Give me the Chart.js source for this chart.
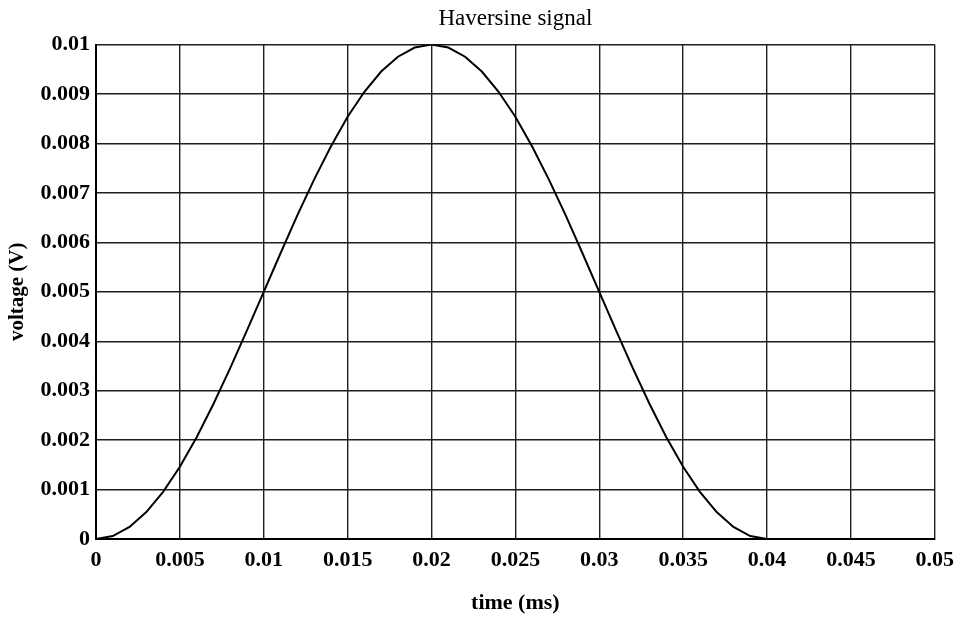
<!DOCTYPE html>
<html>
<head>
<meta charset="utf-8">
<title>Haversine signal</title>
<script src="https://cdn.jsdelivr.net/npm/chart.js@4/dist/chart.umd.min.js"></script>
<style>
  html, body { margin: 0; padding: 0; background: #fff; }
  canvas { display: block; }
</style>
</head>
<body>
<canvas id="haversineChart" width="962" height="620"></canvas>
<script>
// sampled signal, one point every 0.001 ms
var timeMs = [0, 0.001, 0.002, 0.003, 0.004, 0.005, 0.006, 0.007, 0.008, 0.009, 0.01,
              0.011, 0.012, 0.013, 0.014, 0.015, 0.016, 0.017, 0.018, 0.019, 0.02,
              0.021, 0.022, 0.023, 0.024, 0.025, 0.026, 0.027, 0.028, 0.029, 0.03,
              0.031, 0.032, 0.033, 0.034, 0.035, 0.036, 0.037, 0.038, 0.039, 0.04];
var voltage = [0, 0.00006, 0.000245, 0.000545, 0.000955, 0.00146, 0.00206, 0.00273, 0.003455, 0.00422, 0.005,
               0.00578, 0.006545, 0.00727, 0.00794, 0.00854, 0.009045, 0.009455, 0.009755, 0.00994, 0.01,
               0.00994, 0.009755, 0.009455, 0.009045, 0.00854, 0.00794, 0.00727, 0.006545, 0.00578, 0.005,
               0.00422, 0.003455, 0.00273, 0.00206, 0.00146, 0.000955, 0.000545, 0.000245, 0.00006, 0];

// tick positions on both axes
var xTicks = [0, 0.005, 0.01, 0.015, 0.02, 0.025, 0.03, 0.035, 0.04, 0.045, 0.05];
var yTicks = [0, 0.001, 0.002, 0.003, 0.004, 0.005, 0.006, 0.007, 0.008, 0.009, 0.01];

var points = timeMs.map(function (t, i) { return { x: t, y: voltage[i] }; });

var serif = "'Liberation Serif', 'DejaVu Serif', serif";
var gridColor = '#1e1e1e';

// keep the title centred over the plot area rather than the whole canvas
var centreTitle = {
    id: 'centreTitle',
    afterLayout: function (chart) {
        var tb = chart.titleBlock;
        if (!tb) return;
        tb.left = chart.chartArea.left;
        tb.right = chart.chartArea.right;
        tb.width = tb.right - tb.left;
    }
};

var ctx = document.getElementById('haversineChart').getContext('2d');
var myChart = new Chart(ctx, {
    type: 'line',
    data: {
        datasets: [{
            label: 'voltage',
            data: points,
            borderColor: '#000',
            borderWidth: 2,
            pointRadius: 0,
            fill: false,
            tension: 0
        }]
    },
    options: {
        responsive: false,
        animation: false,
        layout: { padding: { left: 0, right: 27, top: 0, bottom: 0 } },
        plugins: {
            legend: { display: false },
            tooltip: { enabled: false },
            title: {
                display: true,
                text: 'Haversine signal',
                color: '#000',
                font: { family: serif, size: 23, weight: 'normal' },
                padding: { top: 5, bottom: 12 }
            }
        },
        scales: {
            x: {
                type: 'linear',
                min: 0,
                max: 0.05,
                afterBuildTicks: function (scale) {
                    scale.ticks = xTicks.map(function (v) { return { value: v }; });
                },
                afterFit: function (scale) { scale.height = 81; },
                ticks: {
                    color: '#000',
                    padding: 8,
                    maxRotation: 0,
                    autoSkip: false,
                    font: { family: serif, size: 22, weight: 'bold' },
                    callback: function (v) { return String(parseFloat(v.toFixed(4))); }
                },
                grid: { color: gridColor, lineWidth: 1.4, drawTicks: false },
                border: { color: '#000', width: 2 },
                title: {
                    display: true,
                    text: 'time (ms)',
                    color: '#000',
                    font: { family: serif, size: 22, weight: 'bold' },
                    padding: { top: 0, bottom: 3 }
                }
            },
            y: {
                type: 'linear',
                min: 0,
                max: 0.01,
                afterBuildTicks: function (scale) {
                    scale.ticks = yTicks.map(function (v) { return { value: v }; });
                },
                afterFit: function (scale) { scale.width = 96; },
                ticks: {
                    color: '#000',
                    padding: 6,
                    autoSkip: false,
                    font: { family: serif, size: 22, weight: 'bold' },
                    callback: function (v) { return String(parseFloat(v.toFixed(4))); }
                },
                grid: { color: gridColor, lineWidth: 1.4, drawTicks: false },
                border: { color: '#000', width: 2 },
                title: {
                    display: true,
                    text: 'voltage (V)',
                    color: '#000',
                    font: { family: serif, size: 21, weight: 'bold' },
                    padding: { top: 5, bottom: 0 }
                }
            }
        }
    },
    plugins: [centreTitle]
});
</script>
</body>
</html>
